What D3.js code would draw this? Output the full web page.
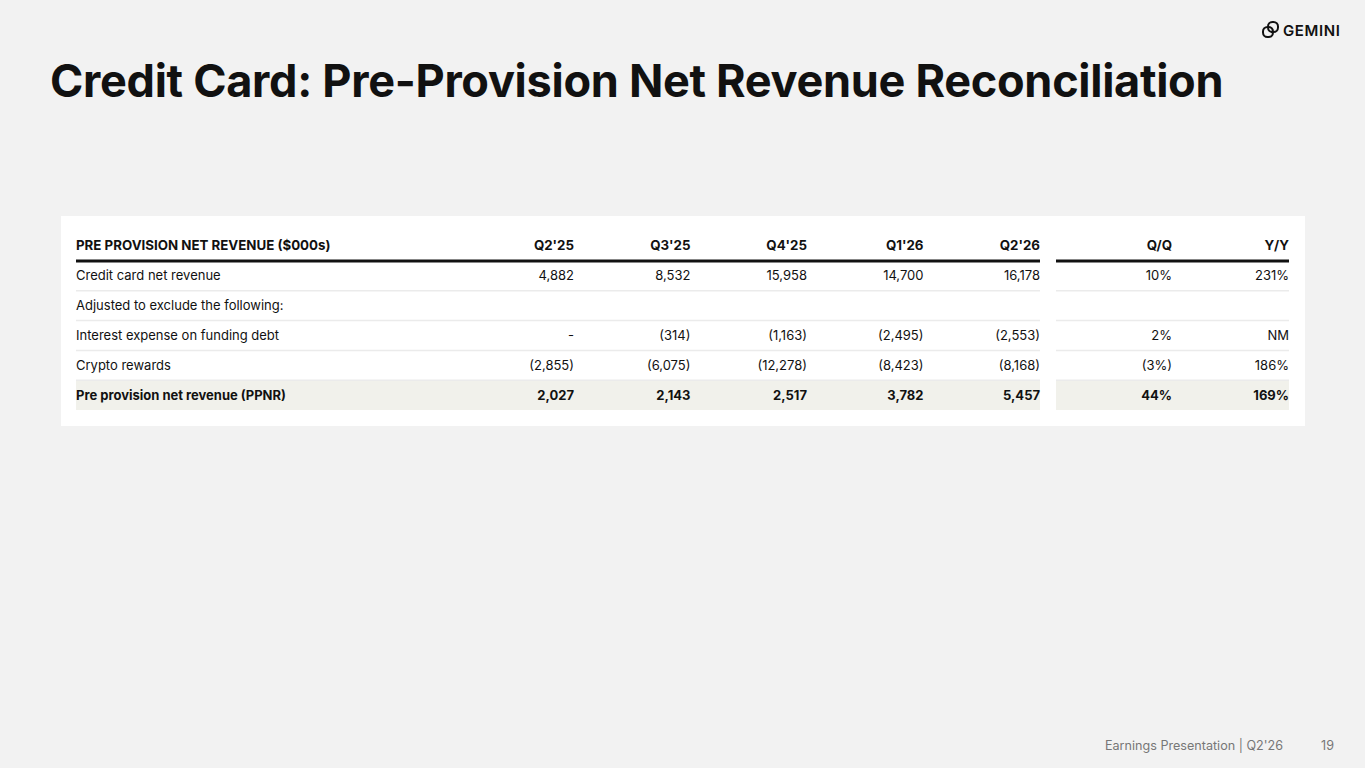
<!DOCTYPE html>
<html lang="en">
<head>
<meta charset="utf-8">
<title>Credit Card: Pre-Provision Net Revenue Reconciliation</title>
<style>
body { margin: 0; background: #f2f2f2; font-family: Inter, "Noto Sans", sans-serif; }
svg text { fill: #111; }
.cell { font-size: 13px; }
.bold { font-weight: 700; }
.head { font-size: 13.3px; font-weight: 700; }
</style>
</head>
<body>
<svg id="chart" width="1365" height="768"></svg>
<script src="https://d3js.org/d3.v7.min.js"></script>
<script>
// table data
var periods = ["Q2'25", "Q3'25", "Q4'25", "Q1'26", "Q2'26"];
var changes = ["Q/Q", "Y/Y"];
var rowLabels = [
  "Credit card net revenue",
  "Adjusted to exclude the following:",
  "Interest expense on funding debt",
  "Crypto rewards",
  "Pre provision net revenue (PPNR)"
];
var periodValues = [
  ["4,882", "8,532", "15,958", "14,700", "16,178"],
  ["", "", "", "", ""],
  ["-", "(314)", "(1,163)", "(2,495)", "(2,553)"],
  ["(2,855)", "(6,075)", "(12,278)", "(8,423)", "(8,168)"],
  ["2,027", "2,143", "2,517", "3,782", "5,457"]
];
var changeValues = [
  ["10%", "231%"],
  ["", ""],
  ["2%", "NM"],
  ["(3%)", "186%"],
  ["44%", "169%"]
];
var totalRow = 4;

var svg = d3.select("#chart");

// title
var title = svg.append("text")
  .attr("x", 50).attr("y", 97)
  .style("font-size", "46px").style("font-weight", 700)
  .style("letter-spacing", "-0.3px")
  .text("Credit Card: Pre-Provision Net Revenue Reconciliation");
// stretch to match the slide width
var tw = title.node().getComputedTextLength();
title.style("font-size", (46 * 1174 / tw) + "px");

// logo
var logo = svg.append("g").attr("transform", "translate(1263,22)");
logo.append("rect").attr("x", 0).attr("y", 5).attr("width", 10).attr("height", 10).attr("rx", 4.5)
  .attr("fill", "none").attr("stroke", "#111").attr("stroke-width", 2);
logo.append("rect").attr("x", 5).attr("y", 0).attr("width", 10).attr("height", 10).attr("rx", 4.5)
  .attr("fill", "none").attr("stroke", "#111").attr("stroke-width", 2);
logo.append("text").attr("x", 20).attr("y", 14)
  .style("font-size", "15px").style("font-weight", 600).style("letter-spacing", "0.6px")
  .text("GEMINI");

// card
svg.append("rect").attr("x", 61).attr("y", 216).attr("width", 1244).attr("height", 210)
  .attr("fill", "#fff");

// scales
var y = d3.scaleBand().domain(rowLabels).range([261, 410]);
var xp = d3.scaleLinear().domain([0, periods.length - 1]).range([574, 1040]);
var xc = d3.scaleLinear().domain([0, changes.length - 1]).range([1172, 1289]);
var left = 76;

// highlighted total row
var tb = y(rowLabels[totalRow]);
svg.append("rect").attr("x", left).attr("y", tb).attr("width", 1040 - left).attr("height", y.bandwidth())
  .attr("fill", "#f1f1eb");
svg.append("rect").attr("x", 1056).attr("y", tb).attr("width", 1289 - 1056).attr("height", y.bandwidth())
  .attr("fill", "#f1f1eb");

// row separators
var seps = rowLabels.slice(1, totalRow + 1);
[[left, 1040], [1056, 1289]].forEach(function(seg) {
  svg.selectAll(null).data(seps).enter().append("line")
    .attr("x1", seg[0]).attr("x2", seg[1])
    .attr("y1", function(d) { return y(d); }).attr("y2", function(d) { return y(d); })
    .attr("stroke", "#ebebeb").attr("stroke-width", 1.5);
  svg.append("line").attr("x1", seg[0]).attr("x2", seg[1]).attr("y1", 261).attr("y2", 261)
    .attr("stroke", "#111").attr("stroke-width", 3);
});

// header
var hy = 250;
svg.append("text").attr("class", "head").attr("x", left).attr("y", hy)
  .text("PRE PROVISION NET REVENUE ($000s)");
svg.selectAll(null).data(periods).enter().append("text").attr("class", "head")
  .attr("x", function(d, i) { return xp(i); }).attr("y", hy).attr("text-anchor", "end")
  .text(function(d) { return d; });
svg.selectAll(null).data(changes).enter().append("text").attr("class", "head")
  .attr("x", function(d, i) { return xc(i); }).attr("y", hy).attr("text-anchor", "end")
  .text(function(d) { return d; });

// body rows
var rows = svg.selectAll(".row").data(rowLabels).enter().append("g")
  .attr("class", function(d, i) { return i === totalRow ? "row bold" : "row"; })
  .attr("transform", function(d) { return "translate(0," + (y(d) + y.bandwidth() / 2 + 4.5) + ")"; });

rows.append("text").attr("class", "cell").attr("x", left).text(function(d) { return d; });
rows.each(function(d, r) {
  var g = d3.select(this);
  g.selectAll(".p").data(periodValues[r]).enter().append("text").attr("class", "cell p")
    .attr("x", function(v, i) { return xp(i); }).attr("text-anchor", "end")
    .text(function(v) { return v; });
  g.selectAll(".c").data(changeValues[r]).enter().append("text").attr("class", "cell c")
    .attr("x", function(v, i) { return xc(i); }).attr("text-anchor", "end")
    .text(function(v) { return v; });
});

// footer
svg.append("text").attr("x", 1283).attr("y", 750).attr("text-anchor", "end")
  .style("font-size", "12.6px").style("fill", "#777").text("Earnings Presentation | Q2'26");
svg.append("text").attr("x", 1334).attr("y", 750).attr("text-anchor", "end")
  .style("font-size", "12.6px").style("fill", "#777").text("19");
</script>
</body>
</html>
